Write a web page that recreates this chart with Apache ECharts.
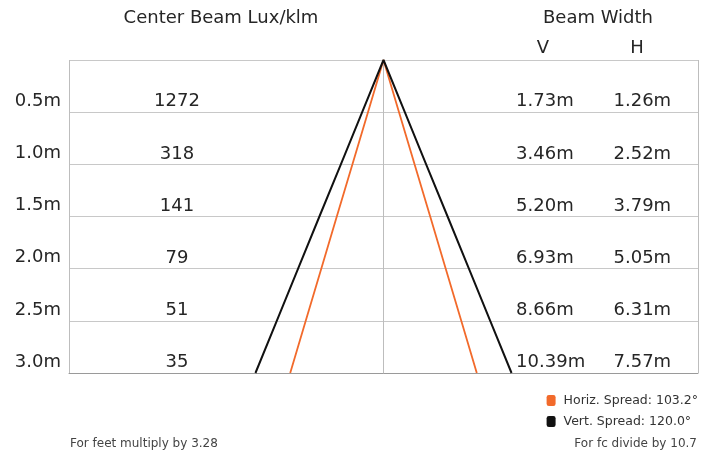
<!DOCTYPE html>
<html>
<head>
<meta charset="utf-8">
<script src="https://cdn.jsdelivr.net/npm/echarts@6/dist/echarts.min.js"></script>
<style>
html,body{margin:0;padding:0;background:#fff;}
#chart{width:721px;height:461px;}
</style>
</head>
<body>
<div id="chart"></div>
<script>
// ---- data ----
const distances = [0.5, 1.0, 1.5, 2.0, 2.5, 3.0];
const distLabels = ['0.5m', '1.0m', '1.5m', '2.0m', '2.5m', '3.0m'];
const luxValues = [1272, 318, 141, 79, 51, 35];
const vWidths = [1.73, 3.46, 5.20, 6.93, 8.66, 10.39];
const hWidths = [1.26, 2.52, 3.79, 5.05, 6.31, 7.57];
const seriesNames = ['Horiz. Spread: 103.2°', 'Vert. Spread: 120.0°'];
const headerLux = 'Center Beam Lux/klm';
const headerWidth = 'Beam Width';
const headerV = 'V';
const headerH = 'H';
const noteFeet = 'For feet multiply by 3.28';
const noteFc = 'For fc divide by 10.7';

// ---- layout (data units on x axis) ----
const X_HALF = 12.76;
const LUX_COL_X = -8.38;
const V_COL_X = 5.38;
const H_COL_X = 11.67;
const FONT = '"DejaVu Sans", sans-serif';
const TXT = '#262626';

function beam(widths) {
  const left = distances.map((d, i) => [-widths[i] / 2, d]).reverse();
  const right = distances.map((d, i) => [widths[i] / 2, d]);
  return left.concat([[0, 0]], right);
}

function colLabels(values, x, align, fmt) {
  return {
    type: 'scatter',
    silent: true,
    symbolSize: 0,
    itemStyle: { opacity: 1 },
    data: distances.map((d, i) => ({ value: [x, d], label: { formatter: fmt(values[i]) } })),
    label: {
      show: true, position: 'inside', align: align, verticalAlign: 'middle',
      offset: [0, -10.5], fontFamily: FONT, fontSize: 18, color: TXT, opacity: 1
    },
    z: 5
  };
}

const chart = echarts.init(document.getElementById('chart'), null, { renderer: 'canvas' });
chart.setOption({
  animation: false,
  backgroundColor: '#fff',
  grid: { left: 69, right: 23, top: 60, bottom: 88 },
  xAxis: {
    type: 'value', min: -X_HALF, max: X_HALF, interval: X_HALF,
    axisLabel: { show: false }, axisTick: { show: false },
    axisLine: { show: true, onZero: false, lineStyle: { color: '#9a9a9a', width: 1 } },
    splitLine: { show: true, lineStyle: { color: '#bdbdbd', width: 1 } }
  },
  yAxis: {
    type: 'value', inverse: true, min: 0, max: 3, interval: 0.5,
    axisLine: { show: false }, axisTick: { show: false },
    splitLine: { show: true, lineStyle: { color: '#c8c8c8', width: 1 } },
    axisLabel: {
      margin: 8, fontFamily: FONT, fontSize: 18, color: TXT,
      verticalAlign: 'bottom', lineHeight: 22,
      formatter: function (v) {
        const idx = distances.findIndex(d => Math.abs(d - v) < 1e-6);
        return idx >= 0 ? distLabels[idx] : '';
      }
    }
  },
  legend: {
    orient: 'vertical', right: 23, top: 394, padding: 0,
    icon: 'roundRect', itemWidth: 9, itemHeight: 11, itemGap: 8,
    data: seriesNames,
    textStyle: { fontFamily: FONT, fontSize: 12.5, color: '#333', padding: [0, 0, 0, 3] }
  },
  series: [
    {
      name: seriesNames[0], type: 'line', data: beam(hWidths), showSymbol: false, symbol: 'none',
      lineStyle: { color: '#f26a2b', width: 1.8 }, itemStyle: { color: '#f26a2b' }, silent: true, z: 3
    },
    {
      name: seriesNames[1], type: 'line', data: beam(vWidths), showSymbol: false, symbol: 'none',
      lineStyle: { color: '#111', width: 2 }, itemStyle: { color: '#111' }, silent: true, z: 4
    },
    colLabels(luxValues, LUX_COL_X, 'center', v => String(v)),
    colLabels(vWidths, V_COL_X, 'left', v => v.toFixed(2) + 'm'),
    colLabels(hWidths, H_COL_X, 'right', v => v.toFixed(2) + 'm')
  ],
  graphic: [
    { type: 'text', x: 221, y: 18, style: { text: headerLux, font: '18px ' + FONT, fill: TXT, textAlign: 'center', textVerticalAlign: 'middle' } },
    { type: 'text', x: 598, y: 18, style: { text: headerWidth, font: '18px ' + FONT, fill: TXT, textAlign: 'center', textVerticalAlign: 'middle' } },
    { type: 'text', x: 543, y: 48, style: { text: headerV, font: '18px ' + FONT, fill: TXT, textAlign: 'center', textVerticalAlign: 'middle' } },
    { type: 'text', x: 637, y: 48, style: { text: headerH, font: '18px ' + FONT, fill: TXT, textAlign: 'center', textVerticalAlign: 'middle' } },
    { type: 'text', x: 70, y: 444, style: { text: noteFeet, font: '12px ' + FONT, fill: '#444', textAlign: 'left', textVerticalAlign: 'middle' } },
    { type: 'text', x: 697, y: 444, style: { text: noteFc, font: '12px ' + FONT, fill: '#444', textAlign: 'right', textVerticalAlign: 'middle' } }
  ]
});
</script>
</body>
</html>
